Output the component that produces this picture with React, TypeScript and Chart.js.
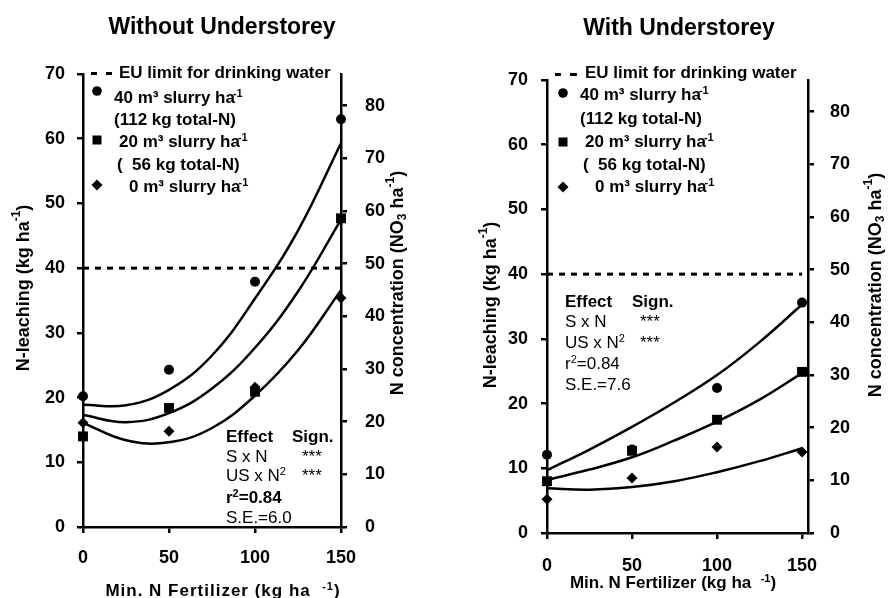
import React, { useEffect, useRef } from 'react';
import { Chart, registerables } from 'chart.js';
Chart.register(...registerables);

// ---------------- data ----------------
const xLevels = [0, 50, 100, 150];
const xTickValues = [0, 50, 100, 150];
const yTickValues = [0, 10, 20, 30, 40, 50, 60, 70];
const y2TickValues = [0, 10, 20, 30, 40, 50, 60, 70, 80];
const curveX = [0, 25, 50, 75, 100, 125, 150];
const euLimitX = [0, 150];
const euLimit = 40;

// Without understorey (N-leaching, kg ha-1)
const woCircle = [20.2, 24.3, 37.9, 63.0];
const woSquare = [14.0, 18.4, 20.9, 47.7];
const woDiamond = [16.1, 14.8, 21.6, 35.4];
const woCurveCircle = [18.9, 18.8, 21.2, 26.5, 35.3, 45.8, 59.3];
const woCurveSquare = [17.3, 16.2, 17.6, 21.4, 27.7, 36.4, 47.5];
const woCurveDiamond = [16.1, 13.4, 13.1, 15.3, 20.3, 27.3, 36.6];

// With understorey
const wCircle = [12.1, 12.9, 22.4, 35.6];
const wSquare = [8.0, 12.7, 17.5, 24.9];
const wDiamond = [5.2, 8.5, 13.3, 12.5];
const wCurveCircle = [9.7, 12.9, 16.4, 20.2, 24.4, 29.5, 35.3];
const wCurveSquare = [8.2, 9.8, 11.7, 14.3, 17.2, 20.6, 24.7];
const wCurveDiamond = [6.9, 6.7, 7.1, 8.0, 9.4, 11.1, 13.1];

// ---------------- drawing helpers ----------------
const F = "'Liberation Sans', Arial, Helvetica, sans-serif";

type Seg = { t: string; sup?: boolean; sub?: boolean; dx?: number };

function drawRich(
  ctx: CanvasRenderingContext2D,
  segs: Seg[],
  x: number,
  y: number,
  size: number,
  bold: boolean,
  align: 'left' | 'center' = 'left',
  rotate = 0,
  spacing = 0,
  baseline: CanvasTextBaseline = 'alphabetic'
) {
  ctx.save();
  ctx.translate(x, y);
  if (rotate) ctx.rotate(rotate);
  (ctx as any).letterSpacing = spacing + 'px';
  const fontOf = (s: number) => `${bold ? 'bold ' : ''}${s}px ${F}`;
  const sizes = segs.map((sg) => (sg.sup || sg.sub ? Math.round(size * 0.65) : size));
  const widths = segs.map((sg, i) => {
    ctx.font = fontOf(sizes[i]);
    return ctx.measureText(sg.t).width;
  });
  let total = 0;
  segs.forEach((sg, i) => (total += widths[i] + (sg.dx || 0)));
  let cx = align === 'center' ? -total / 2 : 0;
  ctx.textBaseline = baseline;
  ctx.textAlign = 'left';
  ctx.fillStyle = '#000';
  segs.forEach((sg, i) => {
    ctx.font = fontOf(sizes[i]);
    cx += sg.dx || 0;
    const dy = sg.sup ? -size * 0.38 : sg.sub ? size * 0.28 : 0;
    ctx.fillText(sg.t, cx, dy);
    cx += widths[i];
  });
  ctx.restore();
}

function circle(ctx: CanvasRenderingContext2D, x: number, y: number, r: number) {
  ctx.beginPath();
  ctx.arc(x, y, r, 0, Math.PI * 2);
  ctx.fillStyle = '#000';
  ctx.fill();
}
function square(ctx: CanvasRenderingContext2D, x: number, y: number, s: number) {
  ctx.fillStyle = '#000';
  ctx.fillRect(x - s / 2, y - s / 2, s, s);
}
function diamond(ctx: CanvasRenderingContext2D, x: number, y: number, r: number) {
  ctx.beginPath();
  ctx.moveTo(x, y - r);
  ctx.lineTo(x + r, y);
  ctx.lineTo(x, y + r);
  ctx.lineTo(x - r, y);
  ctx.closePath();
  ctx.fillStyle = '#000';
  ctx.fill();
}

const haSup: Seg[] = [{ t: '-1', sup: true, dx: -2 }];
const yTitle: Seg[] = [{ t: 'N-leaching (kg ha' }, { t: '-1', sup: true }, { t: ')' }];
const y2Title: Seg[] = [
  { t: 'N concentration (NO' },
  { t: '3', sub: true },
  { t: ' ha' },
  { t: '-1', sup: true },
  { t: ')' },
];
const xTitle: Seg[] = [{ t: 'Min. N Fertilizer (kg ha  ' }, { t: '-1', sup: true }, { t: ')' }];

function drawLeftExtras(ctx: CanvasRenderingContext2D) {
  drawRich(ctx, [{ t: 'Without Understorey' }], 222, 34, 23, true, 'center');
  // legend
  ctx.fillStyle = '#000';
  ctx.fillRect(91, 72, 6, 3);
  ctx.fillRect(106, 72, 6, 3);
  drawRich(ctx, [{ t: 'EU limit for drinking water' }], 119, 78, 17, true);
  circle(ctx, 97, 91, 4.8);
  drawRich(ctx, [{ t: '40 m³ slurry ha' }, ...haSup], 114, 103, 17, true);
  drawRich(ctx, [{ t: '(112 kg total-N)' }], 114, 125, 17, true);
  square(ctx, 97, 140, 9);
  drawRich(ctx, [{ t: '20 m³ slurry ha' }, ...haSup], 119, 147, 17, true);
  drawRich(ctx, [{ t: '(  56 kg total-N)' }], 117, 170, 17, true);
  diamond(ctx, 97, 185, 5.5);
  drawRich(ctx, [{ t: '0 m³ slurry ha' }, ...haSup], 129, 192, 17, true);
  // stats
  drawRich(ctx, [{ t: 'Effect' }], 226, 442, 17, true);
  drawRich(ctx, [{ t: 'Sign.' }], 292, 442, 17, true);
  drawRich(ctx, [{ t: 'S x N' }], 226, 462, 17, false);
  drawRich(ctx, [{ t: '***' }], 302, 462, 17, false);
  drawRich(ctx, [{ t: 'US x N' }, { t: '2', sup: true }], 226, 481, 17, false);
  drawRich(ctx, [{ t: '***' }], 302, 481, 17, false);
  drawRich(ctx, [{ t: 'r' }, { t: '2', sup: true }, { t: '=0.84' }], 226, 503, 17, true);
  drawRich(ctx, [{ t: 'S.E.=6.0' }], 226, 523, 17, false);
  // axis titles
  drawRich(ctx, yTitle, 24, 288, 18, true, 'center', -Math.PI / 2, 0, 'middle');
  drawRich(ctx, y2Title, 398, 283, 18, true, 'center', -Math.PI / 2, 0, 'middle');
  drawRich(ctx, xTitle, 223, 596, 17, true, 'center', 0, 1);
}

function drawRightExtras(ctx: CanvasRenderingContext2D) {
  drawRich(ctx, [{ t: 'With Understorey' }], 679, 35, 23, true, 'center');
  ctx.fillStyle = '#000';
  ctx.fillRect(555, 73, 6, 3);
  ctx.fillRect(570, 73, 7, 3);
  drawRich(ctx, [{ t: 'EU limit for drinking water' }], 585, 78, 17, true);
  circle(ctx, 563, 93, 4.8);
  drawRich(ctx, [{ t: '40 m³ slurry ha' }, ...haSup], 580, 100, 17, true);
  drawRich(ctx, [{ t: '(112 kg total-N)' }], 580, 124, 17, true);
  square(ctx, 563, 142, 9);
  drawRich(ctx, [{ t: '20 m³ slurry ha' }, ...haSup], 585, 147, 17, true);
  drawRich(ctx, [{ t: '(  56 kg total-N)' }], 583, 170, 17, true);
  diamond(ctx, 563, 187, 5.5);
  drawRich(ctx, [{ t: '0 m³ slurry ha' }, ...haSup], 595, 192, 17, true);
  // stats
  drawRich(ctx, [{ t: 'Effect' }], 565, 307, 17, true);
  drawRich(ctx, [{ t: 'Sign.' }], 632, 307, 17, true);
  drawRich(ctx, [{ t: 'S x N' }], 565, 327, 17, false);
  drawRich(ctx, [{ t: '***' }], 640, 327, 17, false);
  drawRich(ctx, [{ t: 'US x N' }, { t: '2', sup: true }], 565, 348, 17, false);
  drawRich(ctx, [{ t: '***' }], 640, 348, 17, false);
  drawRich(ctx, [{ t: 'r' }, { t: '2', sup: true }, { t: '=0.84' }], 565, 369, 17, false);
  drawRich(ctx, [{ t: 'S.E.=7.6' }], 565, 390, 17, false);
  drawRich(ctx, yTitle, 491, 305, 18, true, 'center', -Math.PI / 2, 0, 'middle');
  drawRich(ctx, y2Title, 876, 285, 18, true, 'center', -Math.PI / 2, 0, 'middle');
  drawRich(ctx, xTitle, 673, 588, 17, true, 'center');
}

type Panel = {
  ox: number;
  top: number;
  yW: number;
  y2W: number;
  xH: number;
  xMax: number;
  xPad: number;
  yPad: number;
  y2Pad: number;
  circle: number[];
  square: number[];
  diamond: number[];
  cCircle: number[];
  cSquare: number[];
  cDiamond: number[];
  extras: (ctx: CanvasRenderingContext2D) => void;
};

const panels: Panel[] = [
  {
    ox: 0, top: 74, yW: 83, y2W: 105, xH: 71, xMax: 150, xPad: 14, yPad: 12, y2Pad: 18,
    circle: woCircle, square: woSquare, diamond: woDiamond,
    cCircle: woCurveCircle, cSquare: woCurveSquare, cDiamond: woCurveDiamond,
    extras: drawLeftExtras,
  },
  {
    ox: 446, top: 80, yW: 101, y2W: 85, xH: 65, xMax: 153.5, xPad: 16, yPad: 13, y2Pad: 16,
    circle: wCircle, square: wSquare, diamond: wDiamond,
    cCircle: wCurveCircle, cSquare: wCurveSquare, cDiamond: wCurveDiamond,
    extras: drawRightExtras,
  },
];

function makeConfig(p: Panel): any {
  const pts = (ys: number[]) => xLevels.map((x, i) => ({ x, y: ys[i] }));
  const curve = (ys: number[]) => curveX.map((x, i) => ({ x, y: ys[i] }));
  const pointDs = (ys: number[], style: string, r: number) => ({
    type: 'scatter',
    data: pts(ys),
    showLine: false,
    pointStyle: style,
    pointRadius: r,
    pointHoverRadius: r,
    backgroundColor: '#000',
    borderColor: '#000',
    borderWidth: 0,
    clip: false,
  });
  const lineDs = (ys: number[]) => ({
    type: 'line',
    data: curve(ys),
    borderColor: '#000',
    borderWidth: 2.5,
    pointRadius: 0,
    tension: 0.4,
    fill: false,
    clip: false,
  });
  const euDs = {
    type: 'line',
    data: euLimitX.map((x) => ({ x, y: euLimit })),
    borderColor: '#000',
    borderWidth: 3,
    borderDash: [6, 6],
    pointRadius: 0,
    fill: false,
    clip: false,
  };
  const tickFont = { family: F, size: 18, weight: 'bold' };
  const grid = { display: true, drawOnChartArea: false, drawTicks: true, tickLength: 6, color: '#000', lineWidth: 2.5 };
  const border = { display: true, color: '#000', width: 2.5 };
  const extrasPlugin = {
    id: 'extras' + p.ox,
    afterDraw(chart: any) {
      const ctx = chart.ctx as CanvasRenderingContext2D;
      ctx.save();
      ctx.translate(-p.ox, 0);
      p.extras(ctx);
      ctx.restore();
    },
  };
  return {
    type: 'scatter',
    data: {
      datasets: [
        pointDs(p.circle, 'circle', 5),
        pointDs(p.square, 'rect', 7),
        pointDs(p.diamond, 'rectRot', 5.5),
        lineDs(p.cCircle),
        lineDs(p.cSquare),
        lineDs(p.cDiamond),
        euDs,
      ],
    },
    options: {
      animation: false,
      responsive: false,
      maintainAspectRatio: false,
      events: [],
      layout: { padding: { top: p.top, left: 0, right: 0, bottom: 0 } },
      plugins: { legend: { display: false }, tooltip: { enabled: false }, title: { display: false } },
      scales: {
        x: {
          type: 'linear', position: 'bottom', min: 0, max: p.xMax,
          grid, border,
          ticks: { color: '#000', font: tickFont, padding: p.xPad, maxRotation: 0, autoSkip: false },
          afterBuildTicks: (s: any) => { s.ticks = xTickValues.map((v) => ({ value: v })); },
          afterFit: (s: any) => { s.height = p.xH; },
        },
        y: {
          type: 'linear', position: 'left', min: 0, max: 70,
          grid, border,
          ticks: { color: '#000', font: tickFont, padding: p.yPad, autoSkip: false },
          afterBuildTicks: (s: any) => { s.ticks = yTickValues.map((v) => ({ value: v })); },
          afterFit: (s: any) => { s.width = p.yW; },
        },
        y2: {
          type: 'linear', position: 'right', min: 0, max: 86,
          grid, border,
          ticks: { color: '#000', font: tickFont, padding: p.y2Pad, autoSkip: false },
          afterBuildTicks: (s: any) => { s.ticks = y2TickValues.map((v) => ({ value: v })); },
          afterFit: (s: any) => { s.width = p.y2W; },
        },
      },
    },
    plugins: [extrasPlugin],
  };
}

export default function App() {
  const leftRef = useRef<HTMLCanvasElement>(null);
  const rightRef = useRef<HTMLCanvasElement>(null);
  useEffect(() => {
    const charts = [
      new Chart(leftRef.current as HTMLCanvasElement, makeConfig(panels[0])),
      new Chart(rightRef.current as HTMLCanvasElement, makeConfig(panels[1])),
    ];
    return () => charts.forEach((c) => c.destroy());
  }, []);
  return (
    <div style={{ position: 'fixed', left: 0, top: 0, width: 893, height: 598, background: '#fff' }}>
      <canvas ref={leftRef} width={446} height={598} style={{ position: 'absolute', left: 0, top: 0 }} />
      <canvas ref={rightRef} width={447} height={598} style={{ position: 'absolute', left: 446, top: 0 }} />
    </div>
  );
}
